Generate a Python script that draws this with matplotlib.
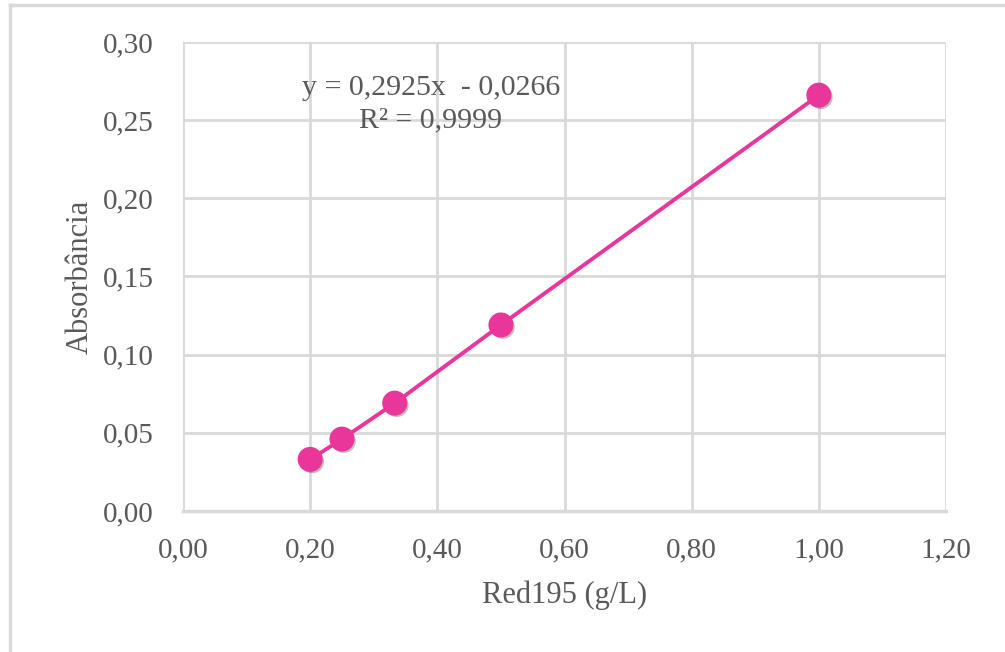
import matplotlib
matplotlib.use("Agg")
import matplotlib.pyplot as plt
import matplotlib.patheffects as pe
from matplotlib.lines import Line2D
from matplotlib.ticker import FuncFormatter, MultipleLocator

# Data
conc = [0.20, 0.25, 0.333, 0.50, 1.00]
absorb = [0.033, 0.046, 0.069, 0.119, 0.266]
equation = "y = 0,2925x  - 0,0266"
r2_text = "R² = 0,9999"
x_label = "Red195 (g/L)"
y_label = "Absorbância"

plt.rcParams['font.family'] = ['Liberation Serif', 'DejaVu Serif']
TXT = '#595959'
GRID = '#d9d9d9'
PINK = '#e8369b'

fig = plt.figure(figsize=(10.05, 6.52), dpi=100)
ax = fig.add_axes([183/1005, 1-511/652, (946-183)/1005, (511-42)/652])

ax.plot(conc, absorb, color=PINK, lw=2.8, zorder=3)
ax.plot(conc, absorb, ls='none', marker='o', ms=17, mfc=PINK, mec=PINK, zorder=4,
        path_effects=[pe.SimplePatchShadow(offset=(1.5, -1.5), alpha=0.25, shadow_rgbFace='black'), pe.Normal()])

ax.set_xlim(0, 1.2)
ax.set_ylim(0, 0.3)
ax.xaxis.set_major_locator(MultipleLocator(0.2))
ax.yaxis.set_major_locator(MultipleLocator(0.05))
fmt = FuncFormatter(lambda v, p: f"{v:.2f}".replace('.', ','))
ax.xaxis.set_major_formatter(fmt)
ax.yaxis.set_major_formatter(fmt)
ax.grid(True, color=GRID, lw=2)
ax.set_axisbelow(True)
for s in ['top', 'right', 'left']:
    ax.spines[s].set_visible(False)
ax.spines['bottom'].set_color(GRID)
ax.spines['bottom'].set_linewidth(2.5)
ax.tick_params(length=0, labelsize=21, colors=TXT, pad=19)
ax.tick_params(axis='y', pad=21)
ax.set_xlabel(x_label, fontsize=22, color=TXT, labelpad=12)
ax.set_ylabel(y_label, fontsize=22, color=TXT, labelpad=6)

ax.text(0.39, 0.2705, equation, ha='center', va='center', fontsize=21.5, color=TXT)
ax.text(0.39, 0.250, r2_text, ha='center', va='center', fontsize=21.5, color=TXT)

# outer frame lines (left and top)
fig.add_artist(Line2D([10/1005, 10/1005], [0, 1-5/652], color=GRID, lw=2.5))
fig.add_artist(Line2D([10/1005, 1], [1-5/652, 1-5/652], color=GRID, lw=2.5))

fig.savefig("out.png", dpi=100)
